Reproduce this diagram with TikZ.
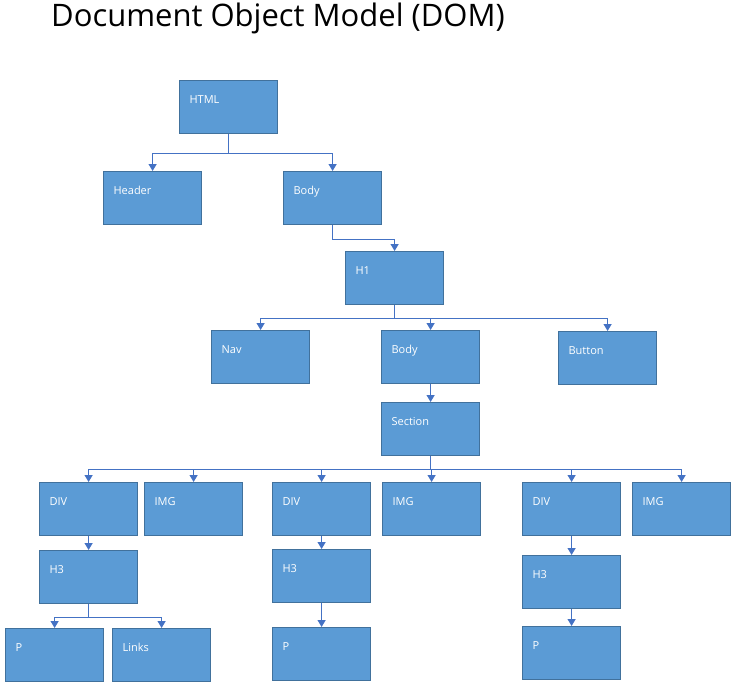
\documentclass[tikz,border=0pt]{standalone}
\usepackage{fontspec}
\setmainfont{Open Sans}
\usepackage{xcolor}
\usetikzlibrary{arrows.meta}

\definecolor{boxblue}{HTML}{5B9BD5}
\definecolor{boxedge}{HTML}{41719C}
\definecolor{linkblue}{HTML}{4472C4}

\tikzset{
  dombox/.style={draw=boxedge, line width=1.2pt, fill=boxblue, text=white,
    anchor=north west, inner xsep=10pt, inner ysep=0pt, text width=78pt,
    align=left, text height=23pt, text depth=30pt,
    font=\fontsize{11}{13}\selectfont},
  link/.style={draw=linkblue, line width=1.3pt, -{Triangle[width=8pt,length=7pt]}}
}

\begin{document}
\begin{tikzpicture}[x=1pt, y=-1pt]
    \useasboundingbox (0,0) rectangle (741,688);
    \node[anchor=base west, inner sep=0pt, font=\fontsize{31}{36}\selectfont] (title) at (51,27) {Document Object Model (DOM)};

    \node[dombox] (html) at (179,80) {HTML};
    \node[dombox] (header) at (103,171) {Header};
    \node[dombox] (body) at (283,171) {Body};
    \node[dombox] (hone) at (345,251) {H1};
    \node[dombox] (nav) at (211,330) {Nav};
    \node[dombox] (bodyb) at (381,330) {Body};
    \node[dombox] (button) at (558,331) {Button};
    \node[dombox] (section) at (381,402) {Section};
    \node[dombox] (diva) at (39,482) {DIV};
    \node[dombox] (imga) at (144,482) {IMG};
    \node[dombox] (divb) at (272,482) {DIV};
    \node[dombox] (imgb) at (382,482) {IMG};
    \node[dombox] (divc) at (522,482) {DIV};
    \node[dombox] (imgc) at (632,482) {IMG};
    \node[dombox] (hthreea) at (39,550) {H3};
    \node[dombox] (hthreeb) at (272,549) {H3};
    \node[dombox] (hthreec) at (522,555) {H3};
    \node[dombox] (pa) at (5,628) {P};
    \node[dombox] (links) at (112,628) {Links};
    \node[dombox] (pb) at (272,627) {P};
    \node[dombox] (pc) at (522,626) {P};

    \foreach \n in {header,body}
      \draw[link] (html.south) -- ++(0,19) -| (\n.north);
    \draw[link] (body.south) -- ++(0,14) -| (hone.north);
    \foreach \n in {nav,bodyb,button}
      \draw[link] (hone.south) -- ++(0,13) -| (\n.north);
    \draw[link] (bodyb) -- (section);
    \foreach \n in {diva,imga,divb,imgb,divc,imgc}
      \draw[link] (section.south) -- ++(0,13) -| (\n.north);
    \foreach \n in {pa,links}
      \draw[link] (hthreea.south) -- ++(0,13) -| (\n.north);
    \draw[link] (diva) -- (hthreea);
    \draw[link] (divb) -- (hthreeb);
    \draw[link] (hthreeb) -- (pb);
    \draw[link] (divc) -- (hthreec);
    \draw[link] (hthreec) -- (pc);
  \end{tikzpicture}
\end{document}
